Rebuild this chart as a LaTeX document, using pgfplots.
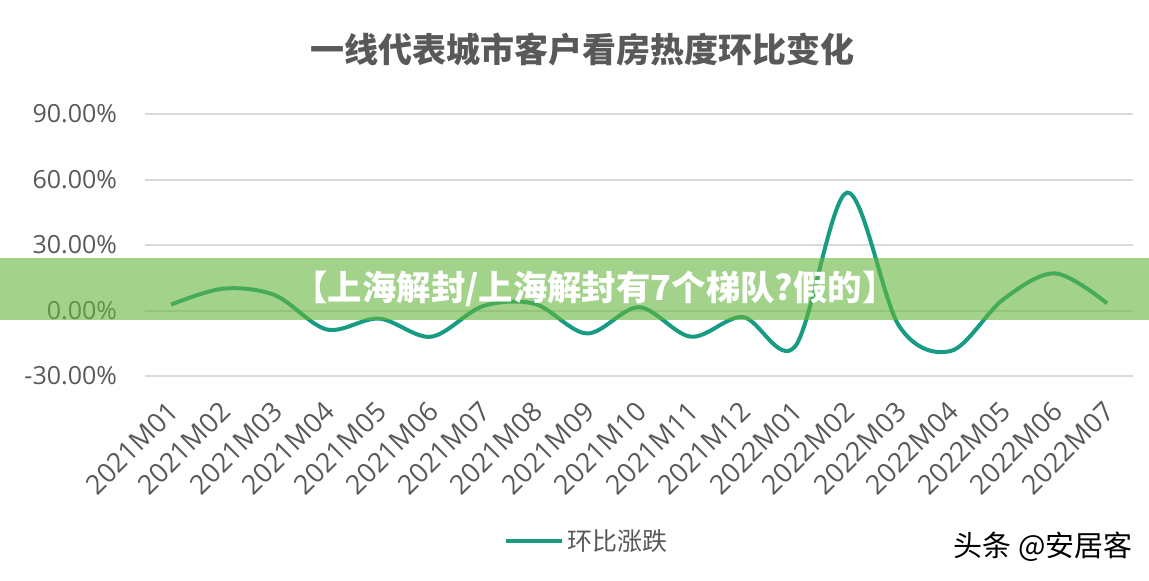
\documentclass[border=0pt]{standalone}
\usepackage{pgfplots}
\pgfplotsset{compat=1.18}
\usepackage{fontspec}
\setmainfont{Open Sans}
\newfontfamily\cjk{Noto Sans CJK SC}
\definecolor{linecol}{RGB}{23,155,130}
\definecolor{bandcol}{RGB}{102,183,60}
\definecolor{txtgray}{RGB}{89,89,89}
\definecolor{gridgray}{RGB}{217,217,217}
\begin{document}
\begin{tikzpicture}[x=0.5pt,y=0.5pt]
\path[use as bounding box, fill=white] (0,0) rectangle (1149,580);
\begin{axis}[
  at={(72.5pt,102pt)}, anchor=south west,
  width=494pt, height=131pt, scale only axis,
  xmin=-0.5, xmax=18.5, ymin=-30, ymax=90,
  axis line style={draw=none},
  tick style={draw=none},
  ymajorgrids, grid style={color=gridgray, line width=1pt},
  ytick={-30,0,30,60,90},
  yticklabels={-30.00\%,0.00\%,30.00\%,60.00\%,90.00\%},
  xtick={0,...,18},
  xticklabels={2021M01,2021M02,2021M03,2021M04,2021M05,2021M06,2021M07,2021M08,2021M09,2021M10,2021M11,2021M12,2022M01,2022M02,2022M03,2022M04,2022M05,2022M06,2022M07},
  x tick label style={rotate=45, anchor=north east, font=\fontsize{13.5}{15}\selectfont, text=txtgray, yshift=-3pt, xshift=-6.5pt},
  y tick label style={font=\fontsize{12.5}{15}\selectfont, text=txtgray, xshift=-10.5pt},
  legend style={at={(0.448,-0.63)}, anchor=center, draw=none, fill=none, font=\cjk\fontsize{12.5}{15}\selectfont, text=txtgray},
  legend image code/.code={\draw[#1] (0pt,0pt) -- (28pt,0pt);},
  clip=false,
]
\addplot[linecol, line width=2pt, smooth, tension=0.55] coordinates {
(0,2.7) (1,10) (2,7) (3,-8.7) (4,-3.7) (5,-12) (6,2) (7,3) (8,-10.5) (9,1.5)
(10,-12) (11,-3) (12,-16.5) (13,54) (14,-7) (15,-18.5) (16,5) (17,17) (18,3.3)};
\addlegendentry{环比涨跌}
\end{axis}
\node[text=txtgray, font=\cjk\bfseries\fontsize{17}{20}\selectfont] at (582,530) {一线代表城市客户看房热度环比变化};
\fill[bandcol, opacity=0.6] (0,260) rectangle (1149,322);
\node[text=white, font=\cjk\bfseries\fontsize{17.2}{20}\selectfont] at (595,291) {【上海解封/上海解封有7个梯队?假的】};
\node[text=black, font=\cjk\fontsize{14.5}{17}\selectfont] at (1043,33) {头条 @安居客};
\end{tikzpicture}
\end{document}
